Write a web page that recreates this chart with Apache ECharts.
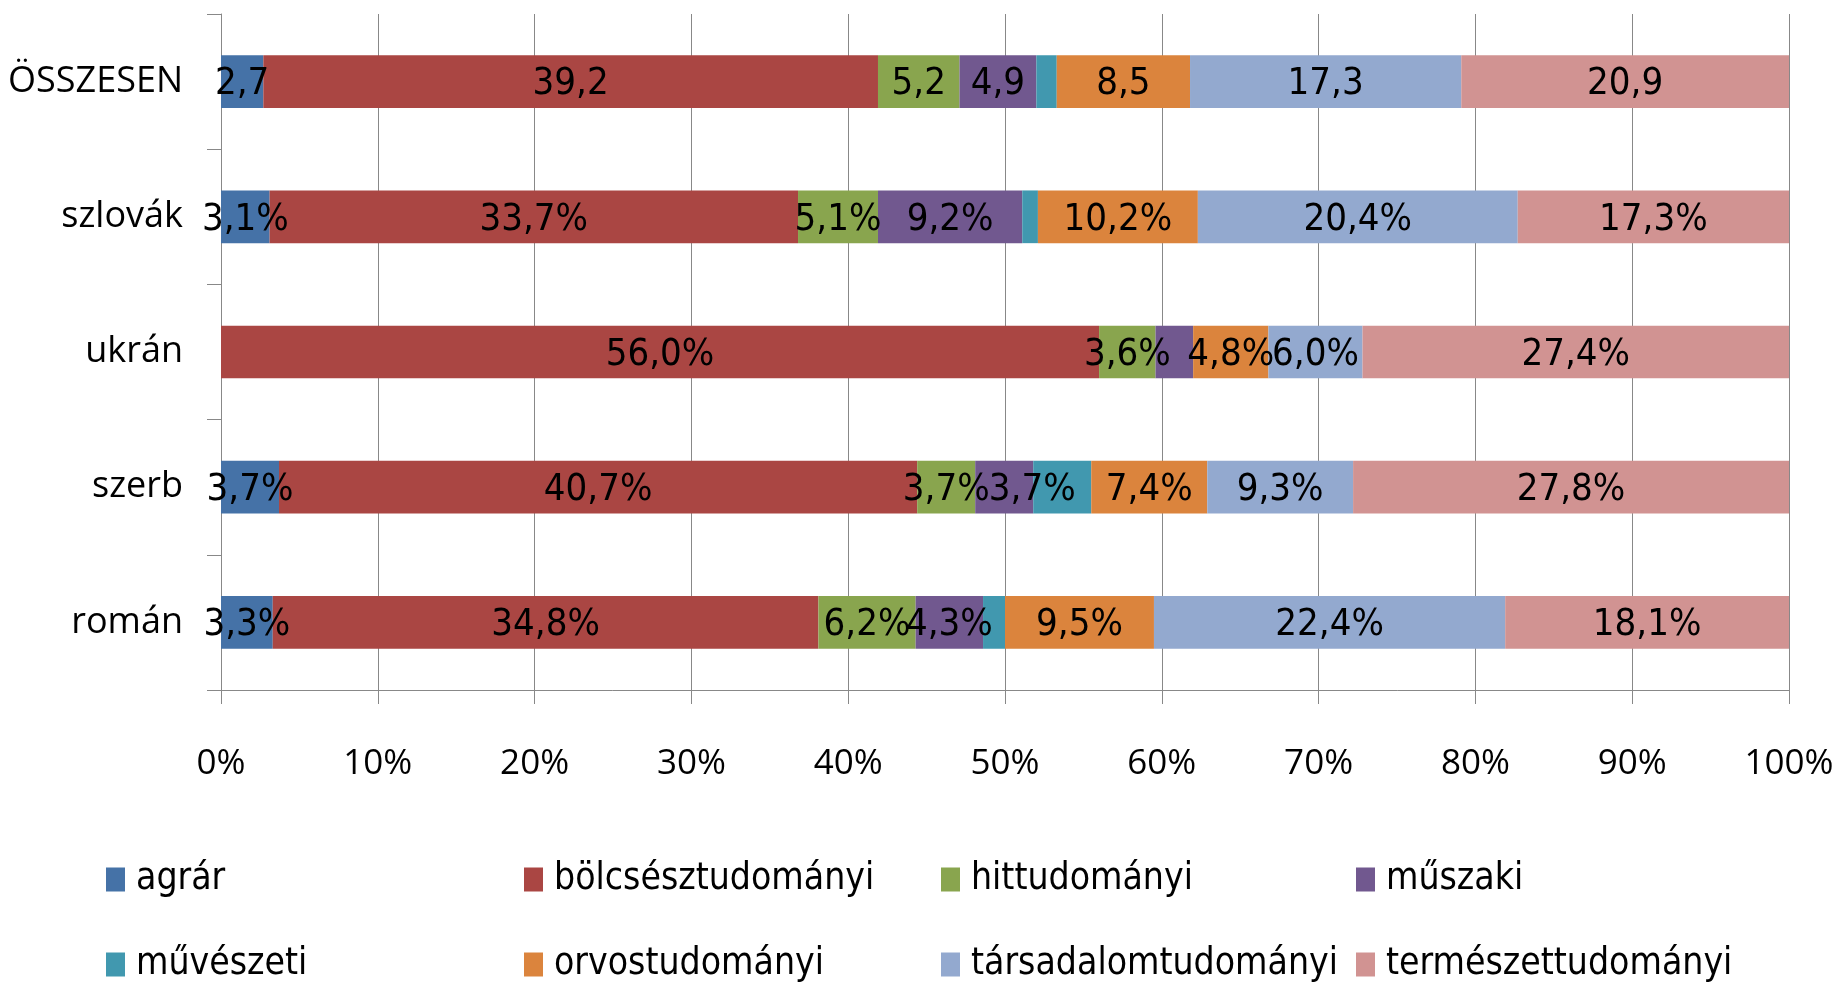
<!DOCTYPE html>
<html>
<head>
<meta charset="utf-8">
<script src="https://cdn.jsdelivr.net/npm/echarts@6/dist/echarts.min.js"></script>
<style>
html,body{margin:0;padding:0;background:#fff;}
#chart{width:1845px;height:987px;}
</style>
</head>
<body>
<div id="chart"></div>
<script>
// Categories, bottom to top
const categories = ['román', 'szerb', 'ukrán', 'szlovák', 'ÖSSZESEN'];
const seriesNames = ['agrár', 'bölcsésztudományi', 'hittudományi', 'műszaki', 'művészeti', 'orvostudományi', 'társadalomtudományi', 'természettudományi'];

const agrar      = [3.3, 3.7, 0.0, 3.1, 2.7];
const bolcsesz   = [34.8, 40.7, 56.0, 33.7, 39.2];
const hittud     = [6.2, 3.7, 3.6, 5.1, 5.2];
const muszaki    = [4.3, 3.7, 2.4, 9.2, 4.9];
const muveszeti  = [1.4, 3.7, 0.0, 1.0, 1.3];
const orvos      = [9.5, 7.4, 4.8, 10.2, 8.5];
const tarsadalom = [22.4, 9.3, 6.0, 20.4, 17.3];
const termeszet  = [18.1, 27.8, 27.4, 17.3, 20.9];

const xTicks = [0, 10, 20, 30, 40, 50, 60, 70, 80, 90, 100];

// labels not shown in the reference: [seriesIndex, categoryIndex]
const hiddenLabels = [[0,2],[3,2],[4,0],[4,1],[4,2],[4,3],[4,4]];
// label shifted in the reference: [seriesIndex, categoryIndex, dx]
const shiftedLabels = [[3,1,28]];

const colors = ['#4572A7', '#AA4643', '#89A54E', '#71588F', '#4198AF', '#DB843D', '#93A9CF', '#D19392'];
const allData = [agrar, bolcsesz, hittud, muszaki, muveszeti, orvos, tarsadalom, termeszet];

const narrow = "'Liberation Sans Narrow', 'DejaVu Sans Condensed', 'Open Sans', sans-serif";
const normal = "'Open Sans', 'Noto Sans', sans-serif";

function fmt(v, cat) {
  return v.toFixed(1).replace('.', ',') + (cat === 'ÖSSZESEN' ? '' : '%');
}

const series = seriesNames.map((name, si) => ({
  name: name,
  type: 'bar',
  stack: 'total',
  barCategoryGap: '61%',
  itemStyle: { color: colors[si] },
  label: {
    show: true,
    position: 'inside',
    fontFamily: narrow,
    fontSize: 38,
    color: '#000',
    offset: [0, 3],
    formatter: p => fmt(p.value, p.name)
  },
  data: allData[si].map((v, ci) => {
    const item = { value: v };
    if (hiddenLabels.some(h => h[0] === si && h[1] === ci)) item.label = { show: false };
    const sh = shiftedLabels.find(h => h[0] === si && h[1] === ci);
    if (sh) item.label = { offset: [sh[2], 3] };
    return item;
  })
}));

const legendLeft = [106, 524, 941, 1356];
const legendTop = [861, 946];
const legends = seriesNames.map((name, i) => ({
  data: [name],
  left: legendLeft[i % 4],
  top: legendTop[Math.floor(i / 4)],
  itemWidth: 19,
  itemHeight: 24,
  itemGap: 0,
  padding: 0,
  icon: 'rect',
  textStyle: { fontFamily: narrow, fontSize: 37, color: '#000', padding: [0, 0, 0, 6] },
  selectedMode: false
}));

const chart = echarts.init(document.getElementById('chart'));
chart.setOption({
  animation: false,
  grid: { left: 221, right: 56, top: 14, bottom: 297, containLabel: false },
  legend: legends,
  xAxis: {
    type: 'value',
    min: xTicks[0],
    max: xTicks[xTicks.length - 1],
    interval: 10,
    axisLine: { show: true, lineStyle: { color: '#888' } },
    axisTick: { show: true, length: 14, lineStyle: { color: '#888' } },
    splitLine: { show: true, lineStyle: { color: '#888', width: 1 } },
    axisLabel: { formatter: '{value}%', fontFamily: normal, fontSize: 35, color: '#000', margin: 57 }
  },
  yAxis: {
    type: 'category',
    data: categories,
    axisLine: { show: true, lineStyle: { color: '#888' } },
    axisTick: { show: true, length: 14, lineStyle: { color: '#888' } },
    axisLabel: { fontFamily: normal, fontSize: 36, color: '#000', margin: 38 }
  },
  series: series
});
</script>
</body>
</html>
